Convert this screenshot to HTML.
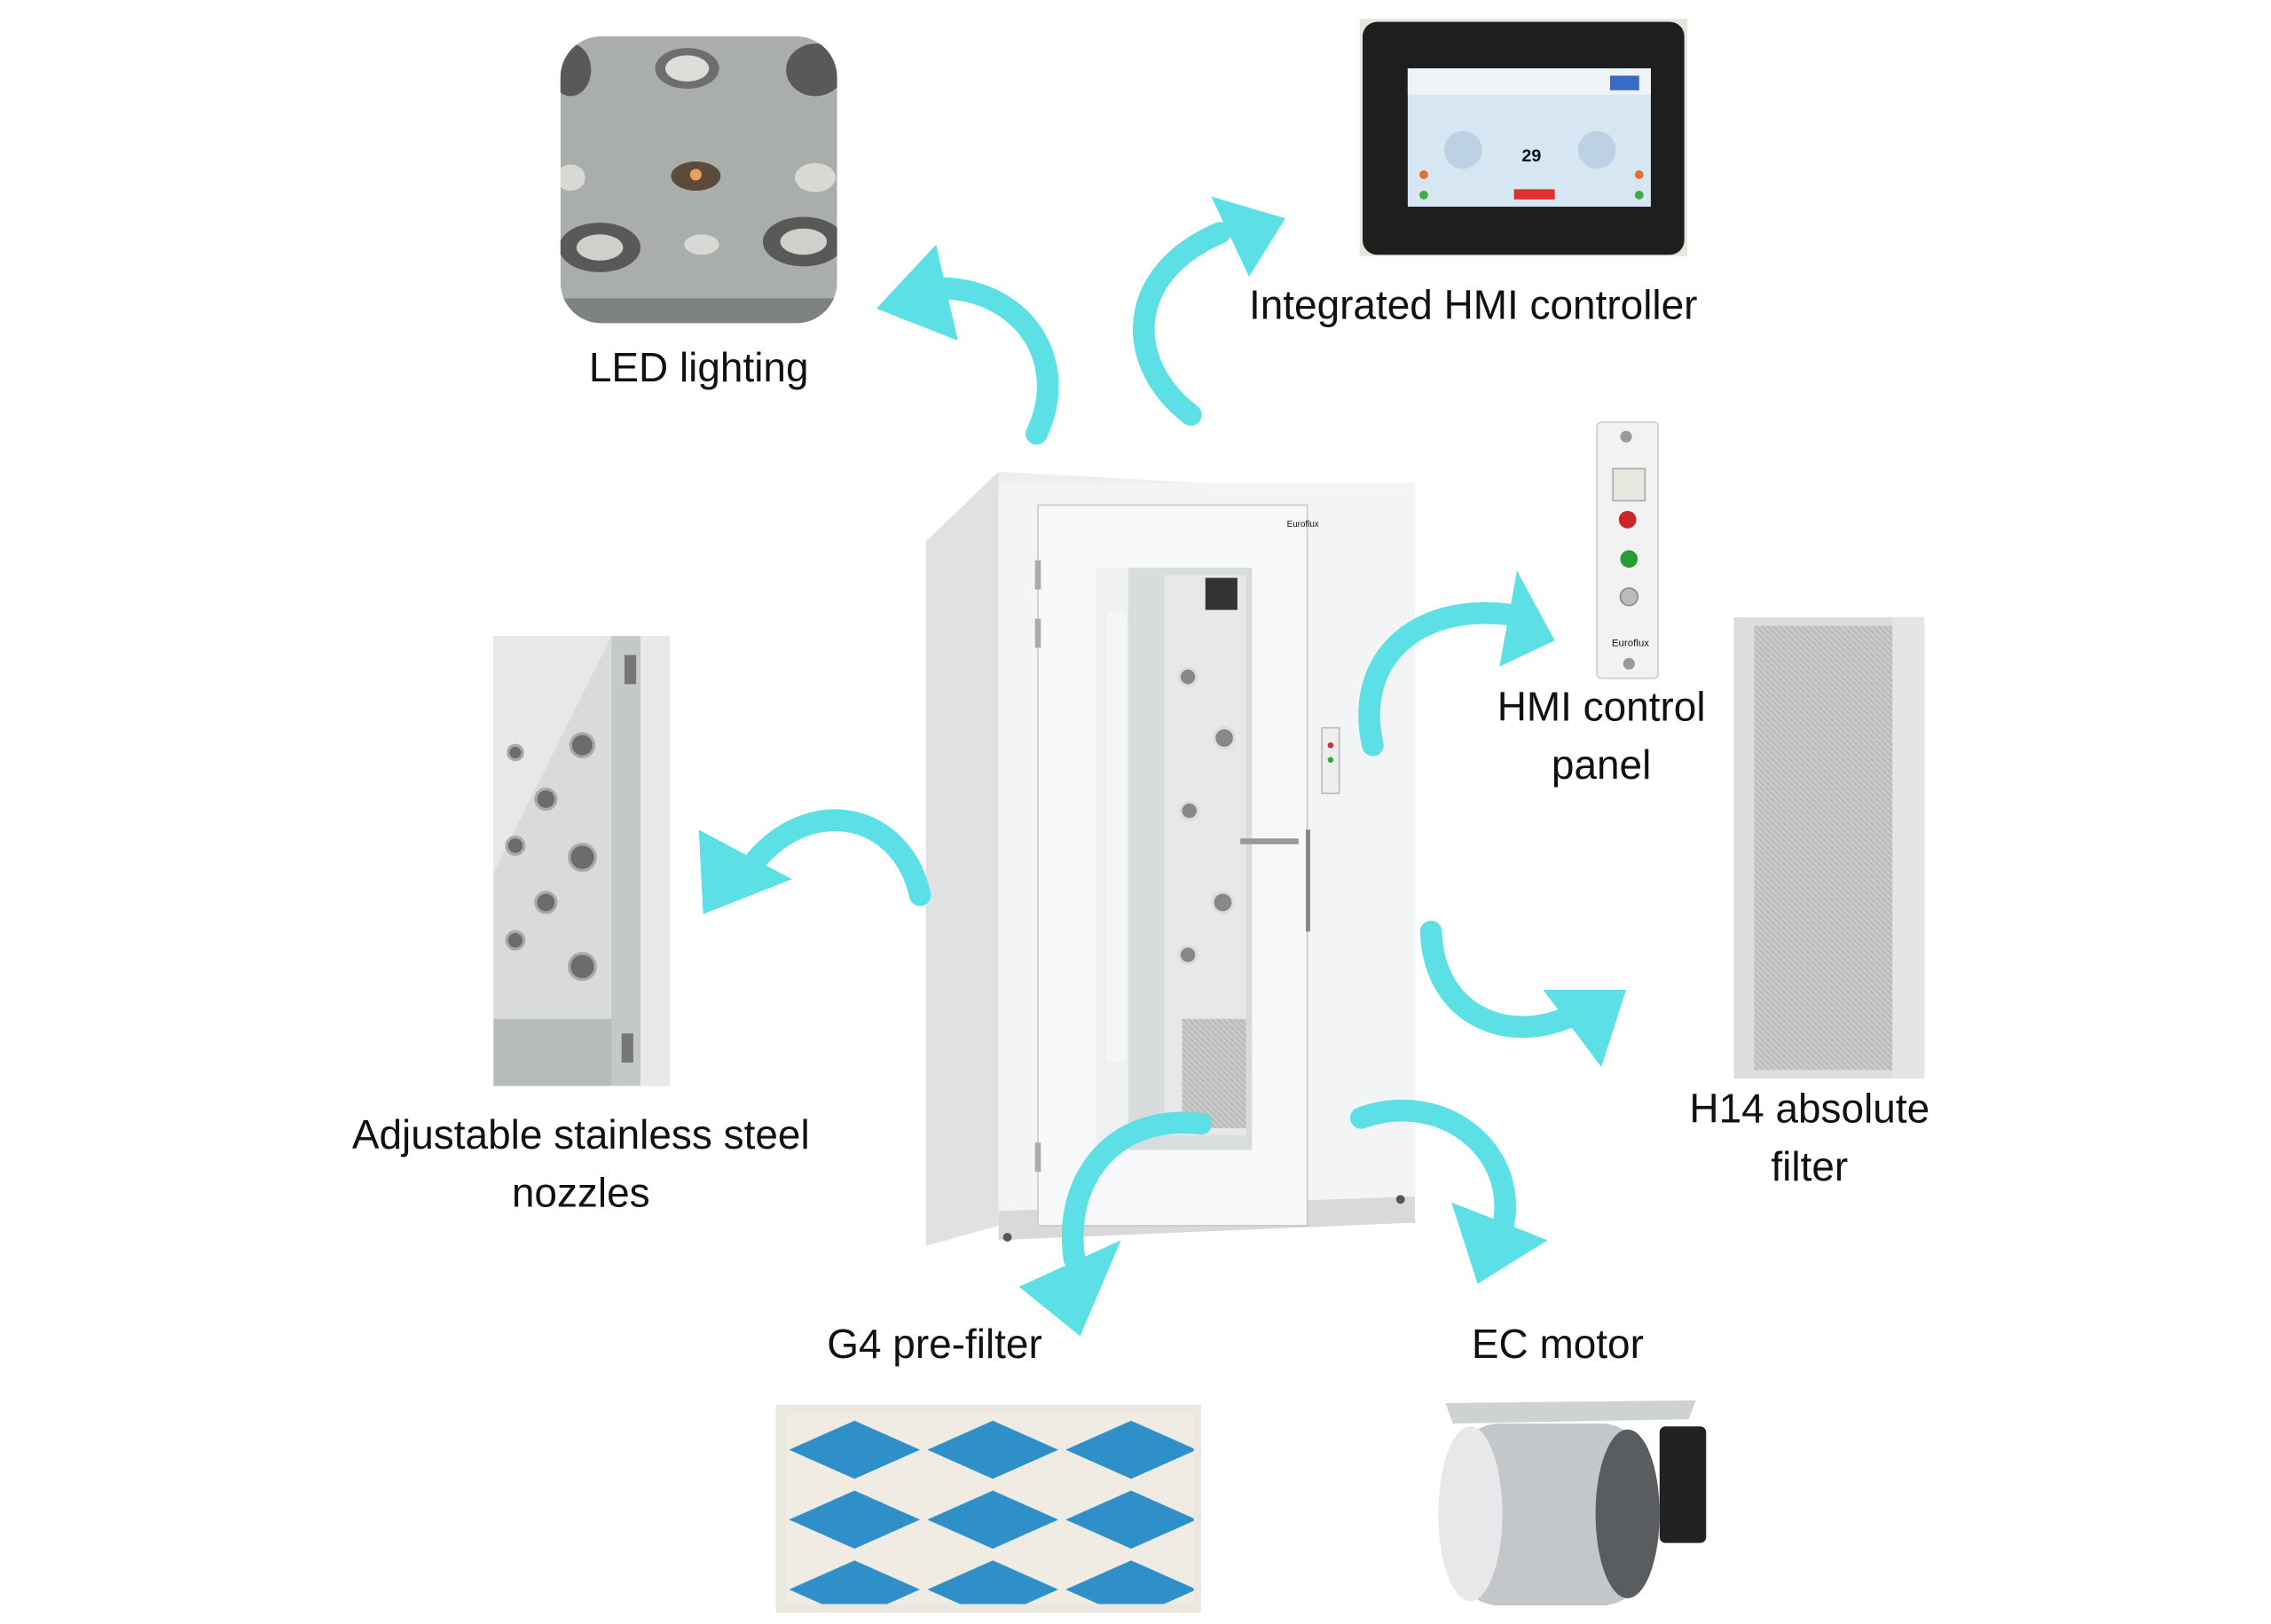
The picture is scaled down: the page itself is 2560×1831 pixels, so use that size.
<!DOCTYPE html>
<html><head><meta charset="utf-8"><style>
html,body{margin:0;padding:0;background:#fff;}
svg{display:block}
text{font-family:"Liberation Sans",sans-serif;fill:#111;}
</style></head><body>
<svg width="2560" height="1831" viewBox="0 0 1560 1115.7" preserveAspectRatio="none" xmlns="http://www.w3.org/2000/svg">
<defs>
<pattern id="g4" x="540" y="972" width="95" height="48" patternUnits="userSpaceOnUse">
<rect width="95" height="48" fill="#f0ece4"/>
<polygon points="47,4 92,24 47,44 2,24" fill="#2f8fc8"/>
</pattern>
<pattern id="hatch" width="4" height="4" patternUnits="userSpaceOnUse">
<rect width="4" height="4" fill="#c9cbcb"/><line x1="0" y1="0" x2="4" y2="4" stroke="#b5b7b7" stroke-width="1"/>
</pattern>
<clipPath id="ledc"><rect x="385" y="25" width="190" height="197" rx="28"/></clipPath>
</defs>

<g clip-path="url(#ledc)">
<rect x="385" y="25" width="190" height="197" fill="#a9aeab"/>
<rect x="385" y="205" width="190" height="17" fill="#7f8380"/>
<ellipse cx="472" cy="47" rx="22" ry="14" fill="#6e6e6c"/><ellipse cx="472" cy="47" rx="15" ry="9" fill="#dcdcd8"/>
<ellipse cx="478" cy="121" rx="17" ry="10" fill="#5c4a3a"/><circle cx="478" cy="120" r="4" fill="#e8a060"/>
<ellipse cx="560" cy="122" rx="14" ry="10" fill="#d8d8d4"/>
<ellipse cx="392" cy="122" rx="10" ry="9" fill="#d8d8d4"/>
<ellipse cx="412" cy="170" rx="28" ry="17" fill="#595957"/><ellipse cx="412" cy="170" rx="16" ry="9" fill="#cfcfcb"/>
<ellipse cx="552" cy="166" rx="28" ry="17" fill="#595957"/><ellipse cx="552" cy="166" rx="16" ry="9" fill="#cfcfcb"/>
<ellipse cx="560" cy="48" rx="20" ry="18" fill="#595957"/>
<ellipse cx="392" cy="48" rx="14" ry="18" fill="#595957"/>
<ellipse cx="482" cy="168" rx="12" ry="7" fill="#d8d8d4"/>
</g>
<text x="480" y="262" font-size="28" text-anchor="middle">LED lighting</text>

<rect x="934" y="13" width="225" height="163" fill="#e8e4dc"/>
<rect x="936" y="15" width="221" height="160" rx="10" fill="#1e1e1e"/>
<rect x="967" y="47" width="167" height="95" fill="#d6e6f2"/>
<rect x="967" y="47" width="167" height="18" fill="#eef3f7"/>
<text x="1052" y="111" font-size="12" text-anchor="middle" font-weight="bold" fill="#223">29</text>
<circle cx="1005" cy="103" r="13" fill="#bcd2e4"/><circle cx="1097" cy="103" r="13" fill="#bcd2e4"/>
<rect x="1040" y="130" width="28" height="7" fill="#e03030"/>
<circle cx="978" cy="120" r="3" fill="#e07030"/><circle cx="978" cy="134" r="3" fill="#4a4"/>
<circle cx="1126" cy="120" r="3" fill="#e07030"/><circle cx="1126" cy="134" r="3" fill="#4a4"/>
<rect x="1106" y="52" width="20" height="10" fill="#3a6ac8"/>
<text x="1012" y="219" font-size="28" text-anchor="middle">Integrated HMI controller</text>

<rect x="339" y="437" width="121" height="309" fill="#d8dadb"/>
<polygon points="339,437 420,437 339,600" fill="#e6e8e9"/>
<rect x="420" y="437" width="20" height="309" fill="#c5c8c9"/>
<rect x="440" y="437" width="20" height="309" fill="#e8e9ea"/>
<rect x="339" y="700" width="81" height="46" fill="#b8bbbc"/>
<rect x="429" y="450" width="8" height="20" fill="#777"/><rect x="427" y="710" width="8" height="20" fill="#777"/>
<g fill="#6a6c6d" stroke="#aaa" stroke-width="2">
<circle cx="400" cy="512" r="8"/><circle cx="354" cy="517" r="5"/><circle cx="375" cy="549" r="7"/>
<circle cx="354" cy="581" r="6"/><circle cx="400" cy="589" r="9"/><circle cx="375" cy="620" r="7"/>
<circle cx="354" cy="646" r="6"/><circle cx="400" cy="664" r="9"/>
</g>
<text x="399" y="789" font-size="28" text-anchor="middle">Adjustable stainless steel</text>
<text x="399" y="829" font-size="28" text-anchor="middle">nozzles</text>

<rect x="1097" y="290" width="42" height="176" rx="3" fill="#f2f2f2" stroke="#ccc"/>
<circle cx="1117" cy="300" r="4" fill="#999"/><circle cx="1119" cy="456" r="4" fill="#999"/>
<rect x="1108" y="322" width="22" height="22" fill="#e8e8e0" stroke="#aaa"/>
<circle cx="1118" cy="357" r="6" fill="#c8282a"/>
<circle cx="1119" cy="384" r="6" fill="#2a9a3a"/>
<circle cx="1119" cy="410" r="6" fill="#bbb" stroke="#888"/>
<text x="1120" y="444" font-size="7" text-anchor="middle" fill="#357">Euroflux</text>
<text x="1100" y="495" font-size="28" text-anchor="middle">HMI control</text>
<text x="1100" y="535" font-size="28" text-anchor="middle">panel</text>

<rect x="1191" y="424" width="131" height="317" fill="#dcdede"/>
<rect x="1205" y="430" width="95" height="305" fill="url(#hatch)"/>
<rect x="1300" y="424" width="22" height="317" fill="#e4e5e5"/>
<text x="1243" y="771" font-size="28" text-anchor="middle">H14 absolute</text>
<text x="1243" y="811" font-size="28" text-anchor="middle">filter</text>

<rect x="533" y="965" width="292" height="143" fill="#ece8e0"/>
<rect x="540" y="972" width="280" height="130" fill="url(#g4)"/>
<text x="642" y="933" font-size="28" text-anchor="middle">G4 pre-filter</text>

<polygon points="993,964 1165,962 1160,975 998,978" fill="#cfd2d3"/>
<rect x="1000" y="978" width="130" height="125" rx="30" fill="#c4c7c9"/>
<ellipse cx="1010" cy="1040" rx="22" ry="60" fill="#e6e8e9"/>
<ellipse cx="1118" cy="1040" rx="22" ry="58" fill="#5a5d60"/>
<rect x="1140" y="980" width="32" height="80" rx="4" fill="#222"/>
<text x="1070" y="933" font-size="28" text-anchor="middle">EC motor</text>

<polygon points="636,372 686,324 686,842 636,856" fill="#dfe1e3"/>
<polygon points="686,324 972,340 972,346 686,332" fill="#eceef0"/>
<rect x="686" y="332" width="286" height="508" fill="#f3f4f5"/>
<polygon points="686,832 972,822 972,840 686,852" fill="#d8d9da"/>
<rect x="713" y="347" width="185" height="495" fill="#f7f8f9" stroke="#c8cacc"/>
<rect x="753" y="390" width="107" height="400" fill="#d9dcdd"/>
<rect x="753" y="390" width="22" height="400" fill="#eef0f1"/>
<rect x="760" y="420" width="14" height="310" fill="#f4f6f7"/>
<rect x="800" y="395" width="56" height="385" fill="#e6e8e9"/>
<rect x="828" y="397" width="22" height="22" fill="#333"/>
<rect x="812" y="700" width="44" height="75" fill="url(#hatch)"/>
<g fill="#888" stroke="#ddd" stroke-width="2">
<circle cx="816" cy="465" r="6"/><circle cx="841" cy="507" r="7"/><circle cx="817" cy="557" r="6"/>
<circle cx="840" cy="620" r="7"/><circle cx="816" cy="656" r="6"/>
</g>
<rect x="852" y="576" width="40" height="4" fill="#999"/>
<rect x="897" y="570" width="3" height="70" fill="#888"/>
<rect x="908" y="500" width="12" height="45" fill="#eee" stroke="#bbb"/>
<circle cx="914" cy="512" r="2" fill="#c33"/><circle cx="914" cy="522" r="2" fill="#3a3"/>
<text x="884" y="362" font-size="6" fill="#357">Euroflux</text>
<rect x="711" y="385" width="4" height="20" fill="#aaa"/><rect x="711" y="425" width="4" height="20" fill="#aaa"/><rect x="711" y="785" width="4" height="20" fill="#aaa"/>
<circle cx="692" cy="850" r="3" fill="#555"/><circle cx="962" cy="824" r="3" fill="#555"/>

<g fill="none" stroke="#5ce0e6" stroke-width="15" stroke-linecap="round">
<path d="M712,298 C735,250 705,200 648,198"/>
<path d="M818,285 C772,250 772,188 838,160"/>
<path d="M943,512 C930,455 970,415 1035,422"/>
<path d="M632,615 C620,560 560,545 520,590"/>
<path d="M983,640 C985,700 1040,720 1085,695"/>
<path d="M825,772 C765,765 730,810 738,865"/>
<path d="M935,768 C990,748 1045,790 1032,845"/>
</g>
<g fill="#5ce0e6">
<polygon points="602,212 643,168 658,234"/>
<polygon points="883,150 832,135 858,190"/>
<polygon points="1068,440 1042,392 1030,458"/>
<polygon points="483,628 480,570 544,604"/>
<polygon points="1117,680 1060,680 1100,733"/>
<polygon points="742,918 700,884 770,852"/>
<polygon points="1015,882 997,826 1063,852"/>
</g>
</svg>
</body></html>
